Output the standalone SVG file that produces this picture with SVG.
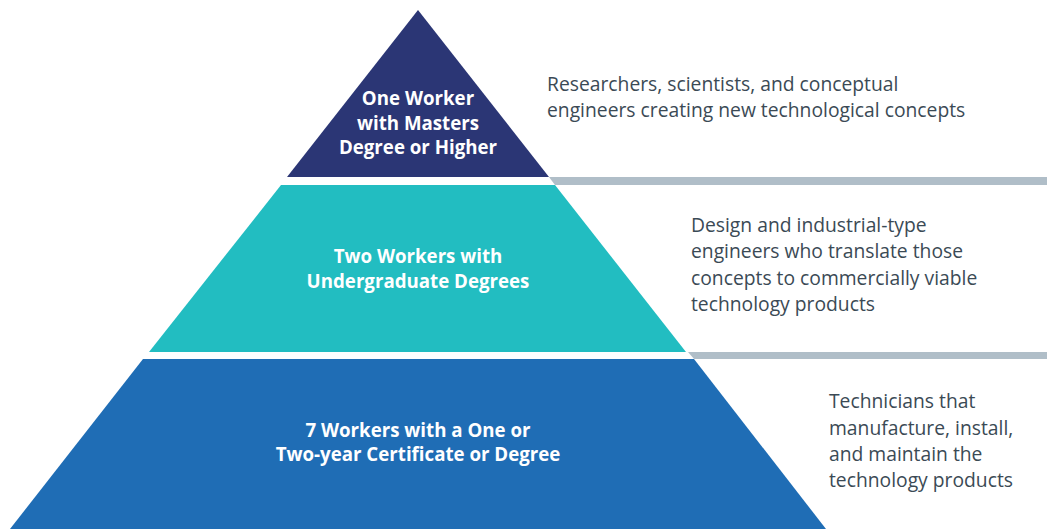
<svg xmlns="http://www.w3.org/2000/svg" width="1047" height="529" viewBox="0 0 1047 529">
<style>
.lvl{font-family:"Open Sans","Liberation Sans",sans-serif;font-weight:700;font-size:18.7px;fill:#ffffff;text-anchor:middle}
.desc{font-family:"Open Sans","Liberation Sans",sans-serif;font-size:19.3px;fill:#3b4a55}
.band{fill:#b0bec8}
</style>
<rect width="1047" height="529" fill="#ffffff"/>
<g id="connectors">
<polygon class="band" points="549,177 1047,177 1047,185 555,185"/>
<polygon class="band" points="688,352 1047,352 1047,359 694,359"/>
</g>
<g id="top">
<polygon points="418,10 549,177 287,177" fill="#2b3675"/>
<text class="lvl" x="418" y="105">One Worker</text>
<text class="lvl" x="418" y="130">with Masters</text>
<text class="lvl" x="418" y="154">Degree or Higher</text>
</g>
<g id="middle">
<polygon points="281,185 555,185 686,352 149,352" fill="#22bdc1"/>
<text class="lvl" x="418" y="263">Two Workers with</text>
<text class="lvl" x="418" y="288">Undergraduate Degrees</text>
</g>
<g id="bottom">
<polygon points="143,359 694,359 826,529 10,529" fill="#1f6db5"/>
<text class="lvl" x="418" y="437">7 Workers with a One or</text>
<text class="lvl" x="418" y="461">Two-year Certificate or Degree</text>
</g>
<g id="desc-top">
<text class="desc" x="547" y="91">Researchers, scientists, and conceptual</text>
<text class="desc" x="547" y="117">engineers creating new technological concepts</text>
</g>
<g id="desc-middle">
<text class="desc" x="691" y="232">Design and industrial-type</text>
<text class="desc" x="691" y="258">engineers who translate those</text>
<text class="desc" x="691" y="284.5">concepts to commercially viable</text>
<text class="desc" x="691" y="311">technology products</text>
</g>
<g id="desc-bottom">
<text class="desc" x="829" y="408">Technicians that</text>
<text class="desc" x="829" y="434.5">manufacture, install,</text>
<text class="desc" x="829" y="461">and maintain the</text>
<text class="desc" x="829" y="487">technology products</text>
</g>
</svg>
